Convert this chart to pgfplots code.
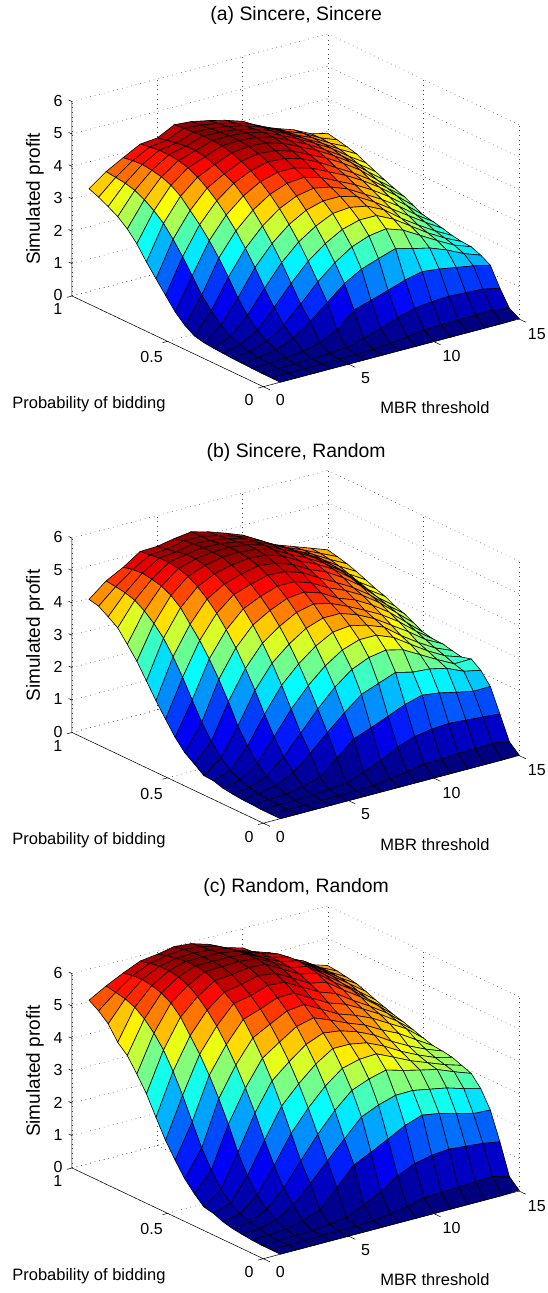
\documentclass[border=0pt]{standalone}
\usepackage{pgfplots}
\usepackage{pgfplotstable}
\usepackage{fontspec}
\setmainfont{Liberation Sans}
\pgfplotsset{compat=1.18}
\pgfplotstableread{
y c1 c2 c3 c4 c5 c6 c7 c8 c9 c10 c11 c12 c13 c14 c15
0 0 0 0 0 0 0 0 0 0 0 0 0 0 0 0.02
0.05 0 0 0 0.01 0.01 0.02 0.03 0.08 0.14 0.22 0.23 0.25 0.26 0.28 0.19
0.1 0 0 0.01 0.02 0.05 0.09 0.24 0.4 0.6 0.74 0.81 0.84 0.81 0.78 0.67
0.15 0.01 0.02 0.05 0.12 0.25 0.5 0.97 1.13 1.3 1.48 1.6 1.54 1.45 1.36 1.24
0.2 0.02 0.06 0.16 0.38 0.75 1.2 1.65 1.95 2.14 2.31 2.17 2.05 1.85 1.6 1.41
0.25 0.03 0.1 0.28 0.65 1.15 1.7 2.15 2.5 2.7 2.78 2.6 2.3 2 1.72 1.53
0.3 0.05 0.18 0.48 1.05 1.65 2.2 2.6 2.9 3.05 3.05 2.8 2.45 2.1 1.8 1.55
0.35 0.07 0.3 0.8 1.5 2.15 2.65 3 3.25 3.3 3.2 2.95 2.55 2.2 1.88 1.6
0.4 0.1 0.5 1.2 2 2.6 3.05 3.35 3.5 3.5 3.35 3.05 2.7 2.35 2 1.68
0.45 0.17 0.8 1.7 2.45 3 3.4 3.65 3.75 3.65 3.45 3.15 2.85 2.5 2.1 1.75
0.5 0.36 1.15 2.15 2.85 3.35 3.7 3.9 3.95 3.8 3.55 3.3 3 2.65 2.25 1.81
0.55 0.63 1.6 2.55 3.2 3.65 3.95 4.1 4.1 3.95 3.7 3.45 3.15 2.8 2.4 1.95
0.6 1 2.05 2.9 3.5 3.9 4.15 4.28 4.25 4.1 3.85 3.55 3.25 2.9 2.5 2.1
0.65 1.37 2.45 3.2 3.75 4.05 4.3 4.4 4.35 4.2 3.95 3.7 3.4 3.05 2.6 2.2
0.7 1.75 2.8 3.5 3.95 4.2 4.42 4.48 4.45 4.3 4.05 3.8 3.5 3.15 2.72 2.32
0.75 2.17 3.05 3.7 4.1 4.3 4.5 4.52 4.48 4.35 4.1 3.85 3.55 3.22 2.82 2.45
0.8 2.49 3.25 3.82 4.18 4.35 4.52 4.53 4.48 4.35 4.13 3.88 3.6 3.3 2.92 2.58
0.85 2.73 3.4 3.88 4.22 4.35 4.52 4.5 4.44 4.32 4.13 3.88 3.6 3.32 3 2.72
0.9 2.9 3.48 3.92 4.22 4.3 4.5 4.47 4.4 4.28 4.1 3.85 3.58 3.35 3.05 2.8
0.95 3.05 3.52 3.9 4.18 4.25 4.48 4.44 4.35 4.22 4.05 3.8 3.55 3.35 3.07 2.87
1 3.17 3.56 3.85 4.13 4.18 4.45 4.41 4.3 4.17 4 3.7 3.5 3.32 3.06 2.93
}\tabA
\pgfplotstableread{
y c1 c2 c3 c4 c5 c6 c7 c8 c9 c10 c11 c12 c13 c14 c15
0 0 0 0 0 0 0 0 0 0 0 0 0 0 0 0.02
0.05 0 0 0 0.01 0.01 0.03 0.04 0.11 0.19 0.3 0.31 0.34 0.35 0.38 0.28
0.1 0 0 0.01 0.03 0.07 0.12 0.32 0.54 0.81 1 1.09 1.13 1.09 1.05 1
0.15 0.02 0.03 0.06 0.15 0.31 0.75 1.21 1.41 1.63 1.85 2 1.93 1.81 1.7 1.71
0.2 0.03 0.07 0.2 0.46 0.9 1.4 1.87 2.3 2.5 2.7 2.57 2.53 2.41 2.18 2.07
0.25 0.06 0.12 0.34 0.79 1.38 1.99 2.52 2.93 3.16 3.25 3.12 2.83 2.54 2.27 2.28
0.3 0.1 0.22 0.59 1.27 1.98 2.57 3.04 3.39 3.57 3.57 3.36 3.01 2.67 2.38 2.2
0.35 0.19 0.37 0.98 1.82 2.58 3.1 3.51 3.8 3.86 3.74 3.54 3.14 2.79 2.48 2.26
0.4 0.21 0.62 1.46 2.42 3.12 3.57 3.92 4.1 4.1 3.92 3.66 3.32 2.98 2.6 2.33
0.45 0.43 0.99 2.07 2.96 3.6 3.98 4.27 4.39 4.27 4.04 3.78 3.5 3.15 2.72 2.34
0.5 0.64 1.43 2.62 3.45 4.02 4.33 4.56 4.62 4.45 4.15 3.96 3.66 3.3 2.85 2.4
0.55 0.97 1.98 3.11 3.87 4.38 4.62 4.8 4.8 4.62 4.33 4.11 3.82 3.45 3 2.55
0.6 1.39 2.54 3.54 4.24 4.68 4.86 5 4.97 4.8 4.5 4.22 3.92 3.55 3.1 2.7
0.65 1.82 3.04 3.9 4.54 4.86 5.03 5.15 5.09 4.91 4.62 4.4 4.08 3.7 3.2 2.8
0.7 2.29 3.47 4.27 4.78 5.04 5.17 5.24 5.2 5.03 4.74 4.5 4.2 3.8 3.3 2.95
0.75 2.76 3.78 4.51 4.96 5.16 5.27 5.29 5.24 5.09 4.8 4.55 4.25 3.87 3.4 3.05
0.8 3.14 4.03 4.66 5.06 5.22 5.29 5.3 5.24 5.09 4.83 4.58 4.28 3.92 3.5 3.18
0.85 3.51 4.22 4.73 5.11 5.22 5.29 5.27 5.19 5.05 4.83 4.56 4.27 3.95 3.6 3.3
0.9 3.71 4.31 4.78 5.11 5.16 5.27 5.23 5.15 5 4.8 4.5 4.22 3.97 3.67 3.4
0.95 3.9 4.36 4.75 5.06 5.1 5.22 5.22 5.1 4.95 4.75 4.45 4.18 3.96 3.72 3.48
1 3.97 4.4 4.68 5.03 5.05 5.15 5.22 5.08 4.9 4.7 4.33 4.12 3.93 3.74 3.55
}\tabB
\pgfplotstableread{
y c1 c2 c3 c4 c5 c6 c7 c8 c9 c10 c11 c12 c13 c14 c15
0 0 0 0 0 0 0 0 0 0 0 0 0 0 0 0.03
0.05 0 0 0 0.02 0.02 0.03 0.05 0.13 0.22 0.35 0.37 0.4 0.42 0.45 0.3
0.1 0 0 0.02 0.03 0.09 0.15 0.41 0.68 1.02 1.26 1.38 1.43 1.38 1.33 1.24
0.15 0.02 0.03 0.08 0.19 0.39 0.93 1.5 1.75 2.02 2.3 2.48 2.39 2.25 2.11 2.08
0.2 0.05 0.09 0.23 0.54 1.06 1.62 2.16 2.7 2.93 3.09 3.1 3 2.9 2.74 2.6
0.25 0.09 0.15 0.41 0.92 1.62 2.3 2.9 3.38 3.59 3.73 3.58 3.45 3.33 3.12 2.93
0.3 0.16 0.27 0.7 1.48 2.33 2.97 3.51 3.92 4.06 4.09 3.85 3.6 3.4 3.2 3.04
0.35 0.28 0.45 1.16 2.12 3.03 3.58 4.05 4.39 4.39 4.29 4.05 3.75 3.5 3.28 3.15
0.4 0.34 0.75 1.74 2.82 3.67 4.12 4.52 4.73 4.66 4.49 4.25 3.92 3.64 3.4 3.2
0.45 0.61 1.2 2.47 3.45 4.23 4.59 4.93 5.06 4.85 4.62 4.42 4.13 3.88 3.55 3.23
0.5 0.93 1.73 3.12 4.02 4.72 5 5.27 5.33 5.05 4.76 4.58 4.35 4.05 3.75 3.32
0.55 1.36 2.4 3.7 4.51 5.15 5.33 5.54 5.54 5.25 4.96 4.78 4.5 4.2 3.85 3.42
0.6 1.83 3.08 4.21 4.94 5.5 5.6 5.78 5.74 5.45 5.16 4.97 4.62 4.3 3.95 3.52
0.65 2.4 3.68 4.64 5.29 5.71 5.81 5.94 5.87 5.59 5.29 5.18 4.8 4.45 4.05 3.6
0.7 2.99 4.2 5.08 5.57 5.92 5.97 6.05 6.01 5.72 5.43 5.32 4.9 4.55 4.1 3.7
0.75 3.46 4.58 5.37 5.78 6.06 6.08 6.1 6.05 5.79 5.49 5.39 5 4.6 4.2 3.8
0.8 3.89 4.88 5.54 5.9 6.1 6.1 6.1 6.05 5.79 5.53 5.43 5.05 4.68 4.3 3.92
0.85 4.16 5.1 5.63 5.95 6.1 6.1 6.08 6 5.75 5.53 5.4 5.05 4.72 4.35 4.02
0.9 4.59 5.22 5.68 5.95 6.05 6.08 6.03 5.94 5.7 5.5 5.35 5.02 4.72 4.38 4.08
0.95 4.85 5.28 5.66 5.9 6 6.05 6 5.87 5.61 5.43 5.25 4.95 4.72 4.38 4.13
1 5.04 5.34 5.6 5.83 5.9 6 5.95 5.79 5.55 5.4 5.03 4.78 4.62 4.33 4.16
}\tabC
\newcommand{\buildcoords}[2]{%
  \gdef#2{}%
  \foreach \r in {0,...,20}{%
    \pgfplotstablegetelem{\r}{[index]0}\of#1\let\yv\pgfplotsretval
    \foreach \c in {1,...,15}{%
      \pgfplotstablegetelem{\r}{[index]\c}\of#1%
      \xdef#2{#2 (\c,\yv,\pgfplotsretval)}%
    }%
  }%
}
\buildcoords{\tabA}{\coordsA}
\buildcoords{\tabB}{\coordsB}
\buildcoords{\tabC}{\coordsC}
\newcommand{\drawsurf}[1]{%
  \edef\tmp{\noexpand\addplot3[surf,shader=flat corner,draw=black,line width=0.6pt,mesh/rows=21,mesh/cols=15,z buffer=reverse xy seq] coordinates {#1};}\tmp
}
\newcommand{\axisdeco}{%
  \draw[black,line width=0.5pt] (axis cs:0,0,0)--(axis cs:15,0,0)
    (axis cs:0,0,0)--(axis cs:0,1,0)--(axis cs:0,1,6)
    (axis cs:0,0,0)--(axis cs:0,-0.035,0) (axis cs:5,0,0)--(axis cs:5,-0.035,0)
    (axis cs:10,0,0)--(axis cs:10,-0.035,0) (axis cs:15,0,0)--(axis cs:15,-0.035,0)
    (axis cs:0,0,0)--(axis cs:-0.3,0,0) (axis cs:0,0.5,0)--(axis cs:-0.3,0.5,0)
    (axis cs:0,1,0)--(axis cs:-0.3,1,0)
    (axis cs:0,1,1)--(axis cs:0,1.018,1) (axis cs:0,1,2)--(axis cs:0,1.018,2)
    (axis cs:0,1,3)--(axis cs:0,1.018,3) (axis cs:0,1,4)--(axis cs:0,1.018,4)
    (axis cs:0,1,5)--(axis cs:0,1.018,5) (axis cs:0,1,6)--(axis cs:0,1.018,6);
}
\pgfplotsset{panel/.style={
  x={(17.05pt,4.51pt)}, y={(-191.3pt,90.7pt)}, z={(0pt,32.4pt)},
  anchor=origin, clip=false,
  xmin=0,xmax=15,ymin=0,ymax=1,zmin=0,zmax=6,
  xtick={0,5,10,15}, ytick={0,0.5,1}, ztick={0,1,2,3,4,5,6},
  yticklabels={0,0.5,1},
  grid=major, major grid style={black!70,line width=0.5pt,dash pattern=on 0.7pt off 4pt},
  major tick length=0pt,
  axis line style={draw=none},
  tick label style={font=\fontsize{16}{18}\selectfont},
  xticklabel style={xshift=11pt,yshift=-4pt},
  yticklabel style={xshift=-7pt,yshift=-4pt},
  zticklabel style={xshift=-6pt},
  /pgf/number format/assume math mode=true,
  title style={at={(axis cs:30.83,2.576,0)},anchor=center,yshift=-7.5pt,font=\fontsize{19.4}{22}\selectfont},
  xlabel style={at={(axis cs:4.773,-0.472,0)},anchor=center,font=\fontsize{16.5}{18}\selectfont},
  ylabel style={at={(axis cs:-7.936,0.204,0)},anchor=center,rotate=0,font=\fontsize{16.5}{18}\selectfont},
  zlabel style={at={(axis cs:-1.409,1.068,3)},anchor=center,font=\fontsize{19}{21}\selectfont},
  xlabel={MBR threshold}, ylabel={Probability of bidding}, zlabel={Simulated profit},
  colormap/jet,
}}
\begin{document}
\begin{tikzpicture}
\path[use as bounding box] (0,0) rectangle (548pt,1293pt);
\begin{axis}[panel, at={(263.3pt,906.3pt)}, title={(a) Sincere, Sincere}]
\drawsurf{\coordsA}
\axisdeco
\end{axis}
\begin{axis}[panel, at={(263.3pt,469.8pt)}, title={(b) Sincere, Random}]
\drawsurf{\coordsB}
\axisdeco
\end{axis}
\begin{axis}[panel, at={(263.3pt,34.3pt)}, title={(c) Random, Random}]
\drawsurf{\coordsC}
\axisdeco
\end{axis}
\end{tikzpicture}
\end{document}
